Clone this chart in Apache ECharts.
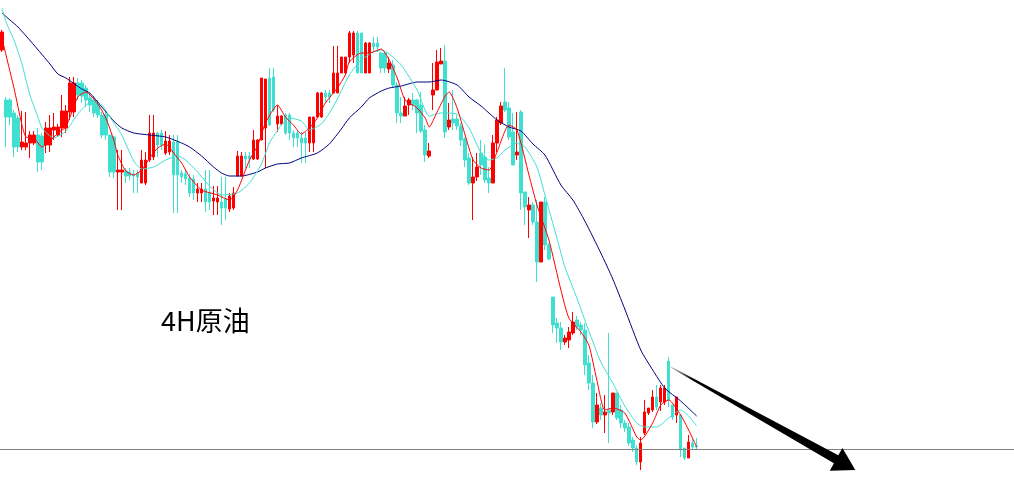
<!DOCTYPE html>
<html>
<head>
<meta charset="utf-8">
<title>4H原油</title>
<script src="https://cdn.jsdelivr.net/npm/echarts/dist/echarts.min.js"></script>
<style>
  html, body { margin: 0; padding: 0; background: #fff; }
  #main { width: 1014px; height: 487px; }
</style>
</head>
<body>
<div id="main"></div>
<script>
// 4H candles, oldest first
var openP = [
  450,400,400,387,382,353,353,357,357,365, 364,355,355,370,365,372,372,388,388,417,
  417,412,402,400,397,385,385,365,363,328, 328,329,328,326,327,317,317,340,343,367,
  367,347,348,358,358,327,326,322,321,307, 307,311,308,299,298,298,301,291,292,324,
  324,344,344,341,341,360,372,422,423,376, 376,385,385,367,367,362,362,357,357,383,
  383,407,407,407,407,427,427,443,445,467, 467,427,427,457,457,447,447,431,435,415,
  387,384,395,400,400,395,370,344,405,410, 436,439,373,381,381,374,361,342,317,323,
  347,343,322,317,357,377,398,392,368,345, 388,308,290,295,278,238,298,255,203,177,
  172,158,160,167,180,175,170,137,117,78,  92,85,90,88,107,90,77,73,60,52,
  38,67,87,90,103,98,98,139,95,85,  85,52,42,57,54
];
var closeP = [
  468,383,383,353,353,358,357,365,365,338, 338,372,372,373,373,389,389,417,417,405,
  404,400,395,387,385,365,365,328,328,330, 330,324,324,324,323,340,340,367,367,355,
  355,359,359,325,325,323,321,307,307,311, 311,298,298,302,302,292,292,304,307,344,
  344,341,341,360,360,422,421,375,390,384, 384,367,367,362,362,357,357,383,383,407,
  407,403,403,427,427,443,443,467,467,427, 427,457,457,453,453,432,432,437,415,387,
  384,394,400,395,387,369,345,349,410,438, 439,368,380,377,374,360,340,317,323,333,
  335,320,317,357,380,394,390,363,335,348, 307,293,295,278,238,298,255,241,175,172,
  158,162,168,178,173,170,135,117,78,95,  85,88,87,107,82,77,72,57,52,38,
  57,88,92,103,93,112,112,100,83,103,  50,42,58,53,53
];
var lowP = [
  448,353,375,343,348,350,350,342,355,328, 330,347,348,360,363,363,367,380,383,400,
  397,393,388,383,382,362,360,323,322,290, 290,317,320,307,307,317,315,338,340,343,
  350,345,345,287,287,317,315,303,300,298, 298,288,290,285,285,275,280,288,290,324,
  324,332,332,340,340,360,332,374,388,368, 375,365,360,353,353,337,337,348,348,383,
  382,397,397,407,407,427,427,437,437,427, 427,427,427,448,448,427,427,427,413,377,
  377,384,385,390,367,367,338,342,390,410, 436,362,370,370,370,354,333,315,280,319,
  325,317,307,317,348,375,388,360,335,340, 290,275,262,275,218,238,250,240,167,157,
  150,155,152,165,170,165,125,110,72,76,  80,67,57,85,80,72,68,54,48,35,
  30,65,85,88,90,89,95,93,80,77,  43,40,42,50,50
];
var highP = [
  470,403,402,390,385,389,388,369,369,372, 367,378,385,387,376,405,395,423,423,422,
  420,415,407,404,400,388,388,365,364,350, 350,332,332,330,330,350,348,385,385,368,
  370,369,365,365,365,330,330,326,325,317, 317,330,330,314,314,323,323,307,313,349,
  348,348,348,370,361,422,421,432,432,395, 385,387,387,370,370,368,368,383,383,408,
  408,410,410,454,454,443,443,469,469,469, 467,458,458,463,463,448,447,443,440,418,
  403,403,402,407,401,408,375,357,437,450, 452,455,397,410,385,377,363,347,343,347,
  360,355,333,365,383,398,432,398,387,388, 390,308,303,298,300,298,303,257,203,182,
  178,165,173,188,184,178,177,145,125,107,  97,105,167,107,107,95,80,77,63,55,
  63,100,92,110,115,115,115,143,95,103,  85,52,65,62,62
];

// moving averages: [candle index, value]
var maFast = [
  [0,462],[1,445],[3,412],[5,375],[6,363],[8,362],[10,353],[12,359],[14,367],[16,373],
  [19,403],[21,408],[24,396],[26,382],[28,360],[29,345],[31,329],[33,325],[35,330],[37,342],
  [39,352],[41,356],[43,347],[45,337],[47,323],[50,310],[54,305],[57,300],[59,310],[62,340],
  [64,354],[66,377],[69,395],[71,383],[73,375],[75,366],[77,372],[79,382],[81,397],[84,412],
  [86,425],[87,438],[90,447],[92,447],[95,451],[97,440],[99,422],[101,400],[104,392],[106,382],
  [107,373],[109,388],[111,404],[112,408],[114,392],[116,365],[118,340],[120,332],[122,330],[124,348],
  [127,375],[129,370],[132,325],[134,295],[137,260],[140,210],[142,182],[145,168],[147,155],[149,120],
  [151,90],[153,92],[156,87],[159,63],[160,60],[163,77],[165,95],[167,100],[170,85],[172,70],[174,53]
];
var maMid = [
  [0,492],[1,478],[3,460],[5,436],[7,405],[9,383],[10,372],[13,362],[16,369],[19,386],
  [22,397],[25,395],[27,383],[30,365],[33,339],[35,331],[38,333],[41,340],[44,344],[46,340],
  [49,328],[52,314],[55,305],[59,307],[62,317],[65,336],[67,357],[70,375],[72,382],[75,379],
  [77,370],[80,376],[82,387],[84,401],[87,425],[90,440],[93,448],[95,450],[97,446],[100,435],
  [104,410],[107,384],[110,387],[114,386],[117,372],[120,347],[122,340],[124,342],[126,350],[129,357],
  [131,353],[134,333],[136,305],[139,262],[141,233],[144,202],[147,169],[150,138],[153,117],[156,94],
  [159,77],[161,73],[164,73],[167,82],[170,90],[172,84],[174,74]
];
var maSlow = [
  [0,487],[2,480],[4,473],[8,455],[12,436],[14,426],[16,422],[20,411],[22,407],[25,393],
  [28,379],[30,372],[33,367],[37,365],[41,363],[45,357],[47,353],[50,344],[53,333],[55,327],
  [57,324],[60,324],[64,328],[66,332],[69,336],[72,337],[75,342],[79,347],[82,356],[85,371],
  [87,382],[90,393],[92,402],[95,409],[97,412],[100,414],[104,418],[107,418],[110,420],[114,415],
  [117,403],[120,394],[124,380],[127,373],[130,369],[133,356],[136,345],[140,315],[143,300],[146,279],
  [150,247],[153,221],[156,191],[160,150],[163,130],[166,112],[170,99],[174,84]
];

var supportLevel = 51;
var arrowFrom = [167.5, 133];
var arrowTo = [213.75, 30];
var slots = 254;

var categories = [];
for (var i = 0; i < slots; i++) {
  categories.push(i < openP.length ? 'K' + (i + 1) : '');
}
var candles = openP.map(function (o, i) {
  return [o, closeP[i], lowP[i], highP[i]];
});

function renderArrow(params, api) {
  var p0 = api.coord(arrowFrom);
  var p1 = api.coord(arrowTo);
  var dx = p1[0] - p0[0], dy = p1[1] - p0[1];
  var len = Math.sqrt(dx * dx + dy * dy);
  var ux = dx / len, uy = dy / len;
  var nx = -uy, ny = ux;
  var headLen = 22, headHalf = 13, w0 = 0.5, w1 = 4.5;
  var bx = p1[0] - ux * headLen, by = p1[1] - uy * headLen;
  var pts = [
    [p0[0] + nx * w0, p0[1] + ny * w0],
    [bx + nx * w1, by + ny * w1],
    [bx + nx * headHalf, by + ny * headHalf],
    [p1[0], p1[1]],
    [bx - nx * headHalf, by - ny * headHalf],
    [bx - nx * w1, by - ny * w1],
    [p0[0] - nx * w0, p0[1] - ny * w0]
  ];
  return {
    type: 'polygon',
    shape: { points: pts },
    style: {
      fill: new echarts.graphic.LinearGradient(p0[0], p0[1], p1[0], p1[1], [
        { offset: 0, color: '#d0d0d0' },
        { offset: 0.12, color: '#000' },
        { offset: 1, color: '#000' }
      ], true)
    }
  };
}

var chart = echarts.init(document.getElementById('main'), null, { renderer: 'canvas' });
var option = {
  animation: false,
  backgroundColor: '#fff',
  title: {
    text: '4H原油',
    left: 161,
    top: 307,
    padding: 0,
    textStyle: {
      color: '#000',
      fontSize: 27,
      fontWeight: 'normal',
      fontFamily: 'Noto Sans CJK SC'
    }
  },
  grid: { left: 0, top: 0, width: 1016, height: 487 },
  xAxis: [
    { type: 'category', data: categories, show: false, boundaryGap: true },
    { type: 'value', min: -0.5, max: slots - 0.5, show: false }
  ],
  yAxis: {
    type: 'value',
    min: 13,
    max: 500,
    show: false,
    splitLine: { show: false }
  },
  series: [
    {
      type: 'candlestick',
      data: candles,
      barWidth: 3,
      itemStyle: {
        color: '#ff0000',
        color0: '#40e0d0',
        borderColor: '#ff0000',
        borderColor0: '#40e0d0',
        borderWidth: 1
      },
      markLine: {
        silent: true,
        symbol: 'none',
        label: { show: false },
        lineStyle: { color: '#808080', type: 'solid', width: 1 },
        data: [{ yAxis: supportLevel }]
      }
    },
    {
      type: 'line', xAxisIndex: 1, data: maSlow, showSymbol: false, smooth: 0.2,
      lineStyle: { color: '#000080', width: 1 }
    },
    {
      type: 'line', xAxisIndex: 1, data: maMid, showSymbol: false, smooth: 0.2,
      lineStyle: { color: '#40e0d0', width: 1 }
    },
    {
      type: 'line', xAxisIndex: 1, data: maFast, showSymbol: false, smooth: 0.2,
      lineStyle: { color: '#ff0000', width: 1 }
    },
    {
      type: 'custom',
      xAxisIndex: 1,
      data: [arrowFrom],
      renderItem: renderArrow,
      silent: true,
      z: 10
    }
  ]
};
chart.setOption(option);
</script>
</body>
</html>
